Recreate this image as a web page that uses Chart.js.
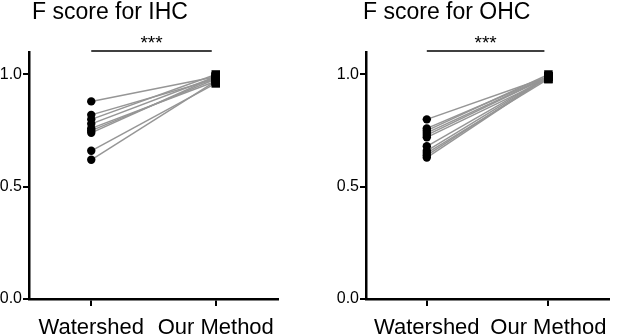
<!DOCTYPE html>
<html>
<head>
<meta charset="utf-8">
<script src="https://cdn.jsdelivr.net/npm/chart.js"></script>
<style>
  html, body { margin: 0; padding: 0; background: #fff; }
  body { width: 617px; height: 335px; position: relative; overflow: hidden; }
  .panel { position: absolute; top: 0; height: 335px; }
  #ihcPanel { left: 0; width: 300px; }
  #ohcPanel { left: 337px; width: 280px; }
</style>
</head>
<body>
<div class="panel" id="ihcPanel"><canvas id="ihcChart"></canvas></div>
<div class="panel" id="ohcPanel"><canvas id="ohcChart"></canvas></div>
<script>
// categories and tick labels
const groups = ['Watershed', 'Our Method'];
const yTicks = [0, 0.5, 1.0];

// F score for IHC, one pair per image
const ihcWatershed = [0.88, 0.82, 0.80, 0.78, 0.76, 0.75, 0.74, 0.66, 0.62];
const ihcOurMethod = [0.99, 0.98, 1.00, 0.99, 0.97, 0.98, 0.99, 0.96, 0.97];

// F score for OHC
const ohcWatershed = [0.80, 0.76, 0.75, 0.74, 0.73, 0.72, 0.68, 0.66, 0.65, 0.64, 0.63];
const ohcOurMethod = [0.99, 0.99, 1.00, 0.99, 0.99, 0.98, 0.99, 0.99, 0.98, 0.99, 0.99];

const FONT = "'Liberation Sans', Arial, sans-serif";

// title and significance bar drawn on top of each panel
const annotations = {
    id: 'annotations',
    afterDraw(chart, args, opts) {
        const ctx = chart.ctx;
        const xs = chart.scales.x;
        ctx.save();
        ctx.fillStyle = '#000';
        ctx.textBaseline = 'alphabetic';
        ctx.textAlign = 'left';
        ctx.font = '23px ' + FONT;
        ctx.fillText(opts.title, opts.titleX, 19);

        const x0 = xs.getPixelForValue(0);
        const x1 = xs.getPixelForValue(1) - 4;
        ctx.strokeStyle = '#000';
        ctx.lineWidth = 1.5;
        ctx.beginPath();
        ctx.moveTo(x0, 51);
        ctx.lineTo(x1, 51);
        ctx.stroke();

        ctx.textAlign = 'center';
        ctx.font = '19px ' + FONT;
        ctx.fillText('***', (x0 + x1) / 2, 49);
        ctx.restore();
    }
};

function makeChart(canvasId, title, titleX, before, after, padRight) {
    const datasets = [];
    before.forEach((v, i) => {
        datasets.push({
            data: [{ x: 0, y: v }, { x: 1, y: after[i] }],
            borderColor: 'rgb(150,150,150)',
            borderWidth: 1.5,
            pointRadius: 0,
            fill: false,
            order: 2
        });
    });
    datasets.push({
        data: before.map(v => ({ x: 0, y: v })),
        showLine: false,
        pointStyle: 'circle',
        pointRadius: 4.2,
        backgroundColor: '#000',
        borderWidth: 0,
        order: 0
    });
    datasets.push({
        data: after.map(v => ({ x: 1, y: v })),
        showLine: false,
        pointStyle: 'rect',
        pointRadius: 6,
        backgroundColor: '#000',
        borderWidth: 0,
        order: 0
    });

    const ctx = document.getElementById(canvasId).getContext('2d');
    new Chart(ctx, {
        type: 'line',
        data: { datasets: datasets },
        plugins: [annotations],
        options: {
            responsive: true,
            maintainAspectRatio: false,
            animation: false,
            layout: { padding: { top: 52, right: padRight, left: 0, bottom: 0 } },
            plugins: {
                legend: { display: false },
                tooltip: { enabled: false },
                annotations: { title: title, titleX: titleX }
            },
            scales: {
                x: {
                    type: 'linear',
                    min: -0.5,
                    max: 1.5,
                    afterBuildTicks: s => { s.ticks = [{ value: 0 }, { value: 1 }]; },
                    afterFit: s => { s.height = 36; },
                    ticks: {
                        callback: v => groups[v],
                        font: { family: FONT, size: 22 },
                        color: '#000',
                        padding: 9,
                        maxRotation: 0,
                        autoSkip: false
                    },
                    grid: { drawOnChartArea: false, tickLength: 7, color: '#000', lineWidth: 2 },
                    border: { color: '#000', width: 2.5 }
                },
                y: {
                    min: 0,
                    max: 1.1,
                    afterBuildTicks: s => { s.ticks = yTicks.map(v => ({ value: v })); },
                    afterFit: s => { s.width = 29; },
                    ticks: {
                        callback: v => v.toFixed(1),
                        font: { family: FONT, size: 16 },
                        color: '#000',
                        padding: 1
                    },
                    grid: { drawOnChartArea: false, tickLength: 6, color: '#000', lineWidth: 2 },
                    border: { color: '#000', width: 2.5 }
                }
            }
        }
    });
}

makeChart('ihcChart', 'F score for IHC', 32, ihcWatershed, ihcOurMethod, 22);
makeChart('ohcChart', 'F score for OHC', 26, ohcWatershed, ohcOurMethod, 2);
</script>
</body>
</html>
